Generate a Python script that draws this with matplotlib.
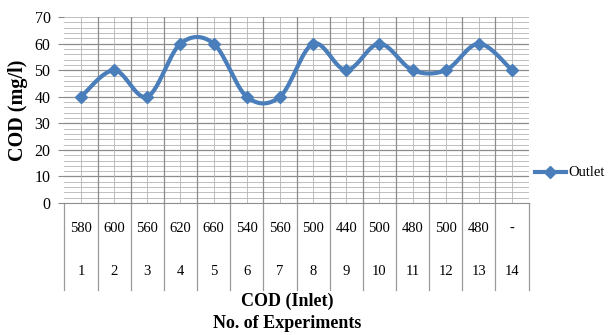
import numpy as np
import matplotlib.pyplot as plt
from matplotlib.lines import Line2D

experimentos = ['1', '2', '3', '4', '5', '6', '7', '8', '9', '10', '11', '12', '13', '14']
cod_inlet = ['580', '600', '560', '620', '660', '540', '560', '500', '440', '500', '480', '500', '480', '-']
outlet = [40, 50, 40, 60, 60, 40, 40, 60, 50, 60, 50, 50, 60, 50]

COR = '#4A7EBB'
SERIF = 'Liberation Serif'


def curva_suave(x, y, n=30):
    # bezier like excel "smoothed line" (catmull-rom)
    x = np.asarray(x, float)
    y = np.asarray(y, float)
    px = np.concatenate([[x[0]], x, [x[-1]]])
    py = np.concatenate([[y[0]], y, [y[-1]]])
    xs, ys = [], []
    t = np.linspace(0, 1, n)
    for i in range(1, len(px) - 2):
        p0 = np.array([px[i], py[i]])
        p3 = np.array([px[i + 1], py[i + 1]])
        c1 = p0 + (np.array([px[i + 1], py[i + 1]]) - np.array([px[i - 1], py[i - 1]])) / 6
        c2 = p3 - (np.array([px[i + 2], py[i + 2]]) - np.array([px[i], py[i]])) / 6
        b = ((1 - t) ** 3)[:, None] * p0 + (3 * (1 - t) ** 2 * t)[:, None] * c1 \
            + (3 * (1 - t) * t ** 2)[:, None] * c2 + (t ** 3)[:, None] * p3
        xs.extend(b[:, 0])
        ys.extend(b[:, 1])
    return xs, ys


fig = plt.figure(figsize=(6.1, 3.35), dpi=100)
ax = fig.add_axes([0.1056, 0.394, 0.761, 0.555])

x = np.arange(len(outlet))
sx, sy = curva_suave(x, outlet)
ax.plot(sx, sy, color=COR, lw=3, zorder=3)
ax.plot(x, outlet, ls='none', marker='D', ms=6.5, color=COR, zorder=4)

ax.set_xlim(-0.5, len(outlet) - 0.5)
ax.set_ylim(0, 70)

# grade
for v in np.arange(2, 70, 2):
    if v % 10 == 0:
        ax.axhline(v, color='#8c8c8c', lw=0.9, zorder=1)
    else:
        ax.axhline(v, color='#b4b4b4', lw=0.6, zorder=1)
ax.axhline(70, color='#b4b4b4', lw=0.6, zorder=1)
for b in np.arange(0.5, len(outlet) - 0.5, 1):
    ax.axvline(b, color='#8c8c8c', lw=0.9, zorder=1)
for c in x:
    ax.axvline(c, color='#b4b4b4', lw=0.6, zorder=1)

for s in ['top', 'right', 'left']:
    ax.spines[s].set_visible(False)
ax.spines['bottom'].set_color('#8c8c8c')

ax.set_yticks(np.arange(0, 71, 10))
ax.set_yticklabels([str(v) for v in range(0, 71, 10)], fontfamily=SERIF, fontsize=11.5)
ax.tick_params(axis='y', length=4, color='#8c8c8c', pad=6)
ax.set_xticks([])

# tabela de categorias
for b in np.arange(-0.5, len(outlet) + 0.5, 1):
    ax.plot([b, b], [0, -0.47], transform=ax.get_xaxis_transform(), color='#9a9a9a',
            lw=0.9, clip_on=False)
for i in x:
    ax.text(i, -0.135, cod_inlet[i], transform=ax.get_xaxis_transform(), ha='center',
            va='center', fontfamily=SERIF, fontsize=10.5)
    ax.text(i, -0.37, experimentos[i], transform=ax.get_xaxis_transform(), ha='center',
            va='center', fontfamily=SERIF, fontsize=10.5)

ax.set_ylabel('COD (mg/l)', fontfamily=SERIF, fontweight='bold', fontsize=14.5, labelpad=5)
fig.text(287 / 610, 1 - 301 / 335, 'COD (Inlet)', ha='center', va='center',
         fontfamily=SERIF, fontweight='bold', fontsize=13)
fig.text(287 / 610, 1 - 324 / 335, 'No. of Experiments', ha='center', va='center',
         fontfamily=SERIF, fontweight='bold', fontsize=13)

# legenda
fig.add_artist(Line2D([535 / 610, 566 / 610], [1 - 172 / 335] * 2, color=COR, lw=3))
fig.add_artist(Line2D([550 / 610], [1 - 172 / 335], marker='D', ms=6.5, color=COR))
fig.text(568 / 610, 1 - 172 / 335, 'Outlet', ha='left', va='center',
         fontfamily=SERIF, fontsize=10.5)

fig.savefig('out.png', dpi=100)
